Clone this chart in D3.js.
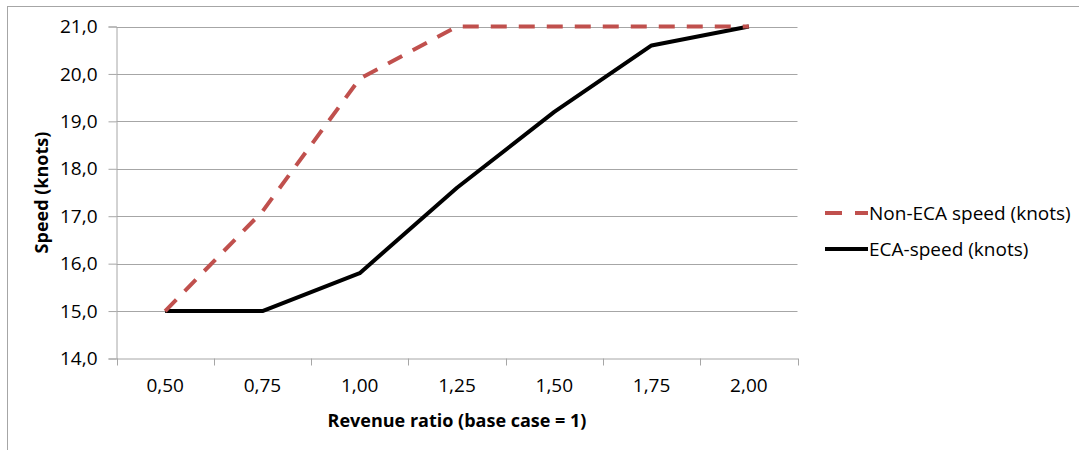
<!DOCTYPE html>
<html>
<head>
<meta charset="utf-8">
<script src="https://cdn.jsdelivr.net/npm/d3@7"></script>
<style>
  html, body { margin: 0; padding: 0; background: #fff; }
  svg { display: block; }
  text { font-family: "Open Sans", "DejaVu Sans", sans-serif; fill: #000; }
</style>
</head>
<body>
<svg id="chart" width="1079" height="450"></svg>
<script>
const categories = ["0,50", "0,75", "1,00", "1,25", "1,50", "1,75", "2,00"];
const nonEcaSpeed = [15.0, 17.1, 19.9, 21.0, 21.0, 21.0, 21.0];
const ecaSpeed = [15.0, 15.0, 15.8, 17.6, 19.2, 20.6, 21.0];
const yTicks = [14, 15, 16, 17, 18, 19, 20, 21];
const seriesNames = ["Non-ECA speed (knots)", "ECA-speed (knots)"];
const xTitle = "Revenue ratio (base case = 1)";
const yTitle = "Speed (knots)";

const svg = d3.select("#chart");
const W = 1079, H = 450;
const plot = { left: 116.5, right: 797.5, top: 26.5, bottom: 358.5 };

// outer border (extends beyond the view on right/bottom)
svg.append("rect")
  .attr("x", 7.5).attr("y", 6.5)
  .attr("width", W + 20).attr("height", H + 20)
  .attr("fill", "none").attr("stroke", "#a6a6a6").attr("stroke-width", 1);

const x = d3.scaleBand().domain(categories).range([plot.left, plot.right]).padding(0);
const y = d3.scaleLinear().domain([14, 21]).range([plot.bottom, plot.top]);

const fmt = d => d.toFixed(1).replace(".", ",");

// gridlines
svg.append("g")
  .selectAll("line")
  .data(yTicks.filter(t => t !== 14))
  .join("line")
  .attr("x1", plot.left).attr("x2", plot.right)
  .attr("y1", d => Math.round(y(d)) + 0.5).attr("y2", d => Math.round(y(d)) + 0.5)
  .attr("stroke", "#a6a6a6").attr("stroke-width", 1);

// y axis
const yAxis = svg.append("g")
  .attr("transform", `translate(${plot.left},0)`)
  .call(d3.axisLeft(y).tickValues(yTicks).tickFormat(fmt).tickSize(8).tickPadding(11));
yAxis.select(".domain").attr("stroke", "#a6a6a6");
yAxis.selectAll(".tick line").attr("stroke", "#a6a6a6");
yAxis.selectAll(".tick text")
  .attr("font-size", 19).attr("font-family", "'Open Sans', sans-serif").attr("fill", "#000");

// x axis
const xAxis = svg.append("g")
  .attr("transform", `translate(0,${plot.bottom})`)
  .call(d3.axisBottom(x).tickSize(0).tickPadding(20));
xAxis.select(".domain").attr("stroke", "#a6a6a6");
xAxis.selectAll(".tick text")
  .attr("font-size", 19).attr("font-family", "'Open Sans', sans-serif").attr("fill", "#000");
// category boundary tick marks
const bounds = categories.map(c => x(c)).concat([x(categories[categories.length - 1]) + x.bandwidth()]);
svg.append("g").selectAll("line").data(bounds).join("line")
  .attr("x1", d => Math.round(d) + 0.5).attr("x2", d => Math.round(d) + 0.5)
  .attr("y1", plot.bottom).attr("y2", plot.bottom + 7)
  .attr("stroke", "#a6a6a6");

// axis titles
svg.append("text")
  .attr("x", (plot.left + plot.right) / 2).attr("y", 427)
  .attr("text-anchor", "middle").attr("font-size", 18).attr("font-weight", "bold")
  .text(xTitle);
svg.append("text")
  .attr("transform", `translate(48,${(plot.top + plot.bottom) / 2}) rotate(-90)`)
  .attr("text-anchor", "middle").attr("font-size", 18).attr("font-weight", "bold")
  .text(yTitle);

// lines
const line = d3.line()
  .x((d, i) => x(categories[i]) + x.bandwidth() / 2)
  .y(d => y(d));

svg.append("path")
  .datum(ecaSpeed)
  .attr("d", line)
  .attr("fill", "none").attr("stroke", "#000").attr("stroke-width", 4)
  .attr("stroke-linejoin", "round");

svg.append("path")
  .datum(nonEcaSpeed)
  .attr("d", line)
  .attr("fill", "none").attr("stroke", "#c0504d").attr("stroke-width", 4)
  .attr("stroke-dasharray", "16,12")
  .attr("stroke-linejoin", "round");

// legend
const legend = svg.append("g");
const legendRows = [
  { name: seriesNames[0], color: "#c0504d", dash: "17,13", y: 213 },
  { name: seriesNames[1], color: "#000", dash: null, y: 249 }
];
legendRows.forEach(r => {
  legend.append("line")
    .attr("x1", 825).attr("x2", 868).attr("y1", r.y).attr("y2", r.y)
    .attr("stroke", r.color).attr("stroke-width", 4)
    .attr("stroke-dasharray", r.dash);
  legend.append("text")
    .attr("x", 869).attr("y", r.y).attr("dy", "0.35em")
    .attr("font-size", 19)
    .text(r.name);
});
</script>
</body>
</html>
